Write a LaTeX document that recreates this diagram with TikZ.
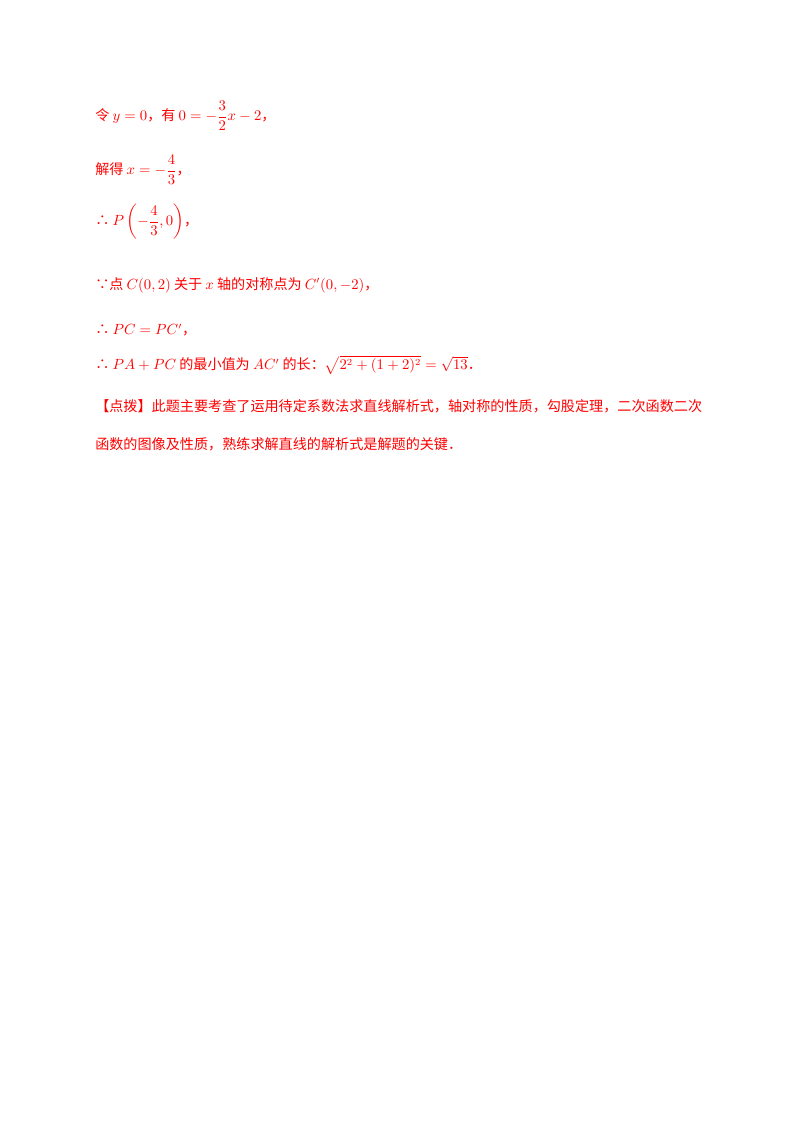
\documentclass[tikz,border=0pt]{standalone}
\usepackage{amsmath}
\usepackage{fontspec}
\setmainfont{Noto Sans CJK SC}
\definecolor{txtred}{RGB}{255,0,0}
\begin{document}
\begin{tikzpicture}[x=0.744pt,y=-0.744pt,
  line/.style={anchor=west,inner sep=0pt,text=txtred,font=\fontsize{10.5}{12}\selectfont}]
\useasboundingbox (0,0) rectangle (800,1132);
\node[line] (l1) at (95,116) {令 $y=0$，有 $0=-\dfrac{3}{2}x-2$，};
\node[line] (l2) at (95,170) {解得 $x=-\dfrac{4}{3}$，};
\node[line] (l3) at (95,222) {∴ $P\left(-\dfrac{4}{3},0\right)$，};
\node[line] (l4) at (95,285) {∵点 $C(0,2)$ 关于 $x$ 轴的对称点为 $C'(0,-2)$，};
\node[line] (l5) at (95,330) {∴ $PC=PC'$，};
\node[line] (l6) at (95,365) {∴ $PA+PC$ 的最小值为 $AC'$ 的长：$\sqrt{2^2+(1+2)^2}=\sqrt{13}$．};
\node[line] (l7) at (95,406) {【点拨】此题主要考查了运用待定系数法求直线解析式，轴对称的性质，勾股定理，二次函数二次};
\node[line] (l8) at (95,444) {函数的图像及性质，熟练求解直线的解析式是解题的关键．};
\end{tikzpicture}
\end{document}
